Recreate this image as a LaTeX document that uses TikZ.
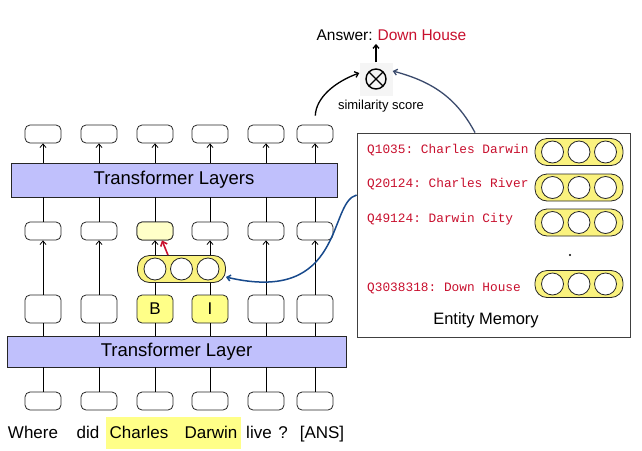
\documentclass[tikz,border=0pt]{standalone}
\usepackage{fontspec}
\setmainfont{Liberation Sans}
\setmonofont{Liberation Mono}
\usetikzlibrary{arrows.meta}
\definecolor{bandblue}{RGB}{192,192,252}
\definecolor{tokyellow}{RGB}{255,255,136}
\definecolor{vecyellow}{RGB}{250,242,126}
\definecolor{paleyellow}{RGB}{255,255,200}
\definecolor{entred}{RGB}{200,16,46}
\definecolor{linkblue}{RGB}{24,74,140}
\definecolor{slateblue}{RGB}{58,74,108}
\newcommand\bandfont{\fontsize{18.5}{22}\selectfont}
\newcommand\wordfont{\fontsize{17}{20}\selectfont}

\begin{document}
\begin{tikzpicture}[x=1pt,y=-1pt,
  >={Straight Barb[length=3.5pt,width=6pt]},
  tok/.style={draw=black!85,line width=0.8pt,rounded corners=5pt,minimum width=36pt,minimum height=18pt,inner sep=0pt},
  tall/.style={tok,minimum height=28pt},
  band/.style={draw=black!85,line width=0.8pt,fill=bandblue,inner sep=0pt,font=\bandfont},
  vec/.style={draw=black!85,line width=0.8pt,fill=vecyellow,rounded corners=12pt,minimum width=88pt,minimum height=27pt,inner sep=0pt},
  bead/.style={draw=black!85,line width=0.8pt,fill=white},
  flow/.style={->,line width=0.8pt},
  pipe/.style={line width=0.8pt}]
 		\useasboundingbox (0,0) rectangle (642,450);
 		%bands
 		\node[band,minimum width=339pt,minimum height=31pt] (tl) at (176.5,351.5) {Transformer Layer};
 		\node[band,minimum width=326pt,minimum height=34pt] (tls) at (174,180) {Transformer Layers};
 		%token columns
 		\foreach \i/\x in {1/43,2/99,3/155,4/210,5/266,6/315}
 		{
 			\node[tok] (b\i) at (\x,401) {};
 			\node[tok] (m\i) at (\x,231) {};
 			\node[tok] (t\i) at (\x,134) {};
 			\draw[pipe] (b\i.north) -- (b\i.north |- tl.south);
 			\draw[pipe] (m\i.north) -- (m\i.north |- tls.south);
 			\draw[flow] (t\i.south |- tls.north) -- (t\i.south);
 		}
 		\foreach \i/\x in {1/43,2/99,5/266,6/315}
 		\node[tall] (l\i) at (\x,309) {};
 		\node[tall,fill=tokyellow,font=\wordfont] (l3) at (155,309) {B};
 		\node[tall,fill=tokyellow,font=\wordfont] (l4) at (210,309) {I};
 		\node[tok,fill=paleyellow] at (m3) {};
 		\foreach \i in {1,...,6}
 		\draw[pipe] (l\i.south |- tl.north) -- (l\i.south);
 		\foreach \i in {1,2,5,6}
 		\draw[flow] (l\i.north) -- (m\i.south);
 		%mention vector
 		\node[vec] (cb) at (181.5,269) {};
 		\foreach \d in {-26.5,0,26.5}
 		\draw[bead] ([xshift=\d pt]cb.center) circle (11);
 		\draw[pipe] (l3.north) -- (l3.north |- cb.south);
 		\draw[pipe] (l4.north) -- (l4.north |- cb.south);
 		\draw[flow] (cb.north -| m3.south) -- (m3.south);
 		\draw[flow] (cb.north -| m4.south) -- (m4.south);
 		\draw[->,entred,line width=1.6pt,>={Straight Barb[length=4pt,width=7pt]}] ([xshift=-13.5pt]cb.north) -- ([xshift=7pt]m3.south);
 		%words
 		\node[fill=tokyellow,minimum width=135pt,minimum height=32pt] (hl) at (173.5,433) {};
 		\foreach \x/\w/\n in {33/Where/w1,88/did/w2,139/Charles/w3,211/Darwin/w4,259/live/w5,283/?/w6,322/{[ANS]}/w7}
 		\node[anchor=base,font=\wordfont,inner sep=0pt] (\n) at (\x,438) {\w};
 		%entity memory
 		\node[draw=black!75,line width=0.8pt,minimum width=273pt,minimum height=204pt,inner sep=0pt] (mem) at (493.5,235) {};
 		\foreach \n/\y/\ty/\lab in {1/152/150/{Q1035: Charles Darwin},2/187.5/184/{Q20124: Charles River},3/222.5/219/{Q49124: Darwin City},4/284/288/{Q3038318: Down House}}
 		{
 			\node[vec] (v\n) at (579,\y) {};
 			\foreach \d in {-26.5,0,26.5}
 			\draw[bead] ([xshift=\d pt]v\n.center) circle (11);
 			\node[anchor=west,inner sep=0pt,text=entred,font=\ttfamily\fontsize{12.8}{14}\selectfont] (e\n) at (367,\ty) {\lab};
 		}
 		\fill (570,255) circle (1.2);
 		\node[font=\fontsize{16.5}{18}\selectfont] (memlab) at (486,320) {Entity Memory};
 		%similarity
 		\node[fill=black!4,minimum size=33pt,inner sep=0pt] (sim) at (376,79) {};
 		\draw[line width=1.4pt] (sim.center) circle (10);
 		\draw[line width=1.4pt] ([shift={(-7,-7)}]sim.center) -- ([shift={(7,7)}]sim.center);
 		\draw[line width=1.4pt] ([shift={(-7,7)}]sim.center) -- ([shift={(7,-7)}]sim.center);
 		\node[font=\fontsize{13}{15}\selectfont] (simlab) at (381,106) {similarity score};
 		\node[font=\fontsize{15.5}{18}\selectfont] (ans) at (391.5,35) {Answer:\hspace{5pt}\textcolor{entred}{Down House}};
 		\draw[->,line width=1.3pt] (sim.north) -- (sim.north |- ans.south);
 		\draw[->,line width=1.3pt,shorten <=9pt] (t6.north) to[out=88,in=200] ([yshift=6pt]sim.west);
 		\draw[->,slateblue,line width=1.3pt] ([xshift=-18.5pt]mem.north) to[out=118,in=-15] ([yshift=8pt]sim.east);
 		\draw[->,linkblue,line width=1.5pt] ([yshift=40pt]mem.west) .. controls (328,202) and (345,305) .. ([yshift=-8pt]cb.east);
\end{tikzpicture}
\end{document}
